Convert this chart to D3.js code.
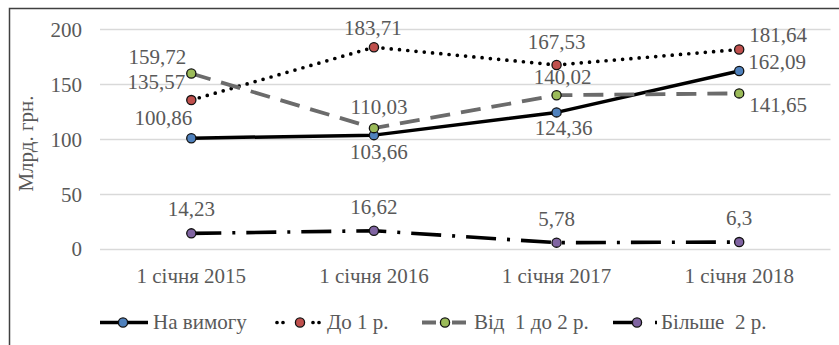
<!DOCTYPE html>
<html>
<head>
<meta charset="utf-8">
<script src="https://cdn.jsdelivr.net/npm/d3@7"></script>
</head>
<body style="margin:0">
<svg id="chart" width="839" height="345"></svg>
<script>
// ---- data ----
const categories = ["1 січня 2015", "1 січня 2016", "1 січня 2017", "1 січня 2018"];
const seriesNames = ["На вимогу", "До 1 р.", "Від  1 до 2 р.", "Більше  2 р."];
const onDemand   = [100.86, 103.66, 124.36, 162.09];
const upTo1      = [135.57, 183.71, 167.53, 181.64];
const from1to2   = [159.72, 110.03, 140.02, 141.65];
const over2      = [14.23, 16.62, 5.78, 6.3];
const yTicks     = [0, 50, 100, 150, 200];
const yTitle     = "Млрд. грн.";

// ---- styles / layout ----
const TXT = "#595959";
const seriesValues = [onDemand, upTo1, from1to2, over2];
const styles = [
  { stroke: "#000", width: 3.5, dash: null, cap: "butt", fill: "#4F81BD", legDash: null },
  { stroke: "#000", width: 3.7, dash: "0,8.3", cap: "round", fill: "#C0504D", legDash: "0,6,0,30,0,6,0,100" },
  { stroke: "#6b6b6b", width: 3.8, dash: "20,11", cap: "butt", fill: "#9BBB59", legDash: "14,16,14" },
  { stroke: "#000", width: 3.6, dash: "30,11,3,11", cap: "butt", fill: "#8064A2", legDash: "28,14,2,50" }
];
// label offsets (dx, dy) relative to each point
const labelOffsets = [
  [[-28, -20], [5, 17], [7, 16], [38, -9]],
  [[-35, -18], [-1, -19], [0, -23], [39, -14]],
  [[-34, -16], [5, -21], [6, -18], [39, 12]],
  [[0, -24], [0, -24], [0, -24], [0, -24]]
];
const legendItems = [
  { x0: 100, x1: 148, m: 123, tx: 153 },
  { x0: 277, x1: 321, m: 300, tx: 327 },
  { x0: 422, x1: 466, m: 445, tx: 474 },
  { x0: 613, x1: 660, m: 637, tx: 661 }
];

const svg = d3.select("#chart");
const fmt = v => String(v).replace(".", ",");
const styleText = sel => sel.style("font-family", "'Liberation Serif'")
  .attr("font-size", 21).attr("fill", TXT);

const x = d3.scaleBand().domain(categories).range([100, 830.5]);
const y = d3.scaleLinear().domain([0, 200]).range([249, 29.3]);
const cx = c => x(c) + x.bandwidth() / 2;

// border
svg.append("rect").attr("x", 9.5).attr("y", 8.5).attr("width", 900).attr("height", 400)
  .attr("fill", "none").attr("stroke", "#404040").attr("stroke-width", 1.5);

// gridlines
svg.append("g").selectAll("line").data(yTicks).join("line")
  .attr("x1", 100).attr("x2", 830.5)
  .attr("y1", d => Math.round(y(d)) + 0.5).attr("y2", d => Math.round(y(d)) + 0.5)
  .attr("stroke", "#d9d9d9").attr("stroke-width", 1.3);

// y axis labels
const yAxis = svg.append("g").attr("transform", "translate(82,0)")
  .call(d3.axisLeft(y).tickValues(yTicks).tickSize(0).tickPadding(0));
yAxis.attr("font-family", null).attr("font-size", null);
yAxis.select(".domain").remove();
yAxis.selectAll("text").call(styleText).attr("dy", "0.33em");

// x axis labels
const xAxis = svg.append("g").attr("transform", "translate(0,268)")
  .call(d3.axisBottom(x).tickSize(0).tickPadding(0));
xAxis.attr("font-family", null).attr("font-size", null);
xAxis.select(".domain").remove();
xAxis.selectAll("text").call(styleText).attr("dy", "0.71em");

// y title
svg.append("text").attr("transform", "translate(33,143.5) rotate(-90)")
  .attr("text-anchor", "middle").call(styleText).text(yTitle);

// series
const line = d3.line().x((d, i) => cx(categories[i])).y(d => y(d));
seriesValues.forEach((vals, s) => {
  const st = styles[s];
  const g = svg.append("g");
  g.append("path").attr("d", line(vals)).attr("fill", "none")
    .attr("stroke", st.stroke).attr("stroke-width", st.width)
    .attr("stroke-dasharray", st.dash).attr("stroke-linecap", st.cap)
    .attr("stroke-linejoin", "round");
  g.selectAll("circle").data(vals).join("circle")
    .attr("cx", (d, i) => cx(categories[i])).attr("cy", d => y(d)).attr("r", 4.6)
    .attr("fill", st.fill).attr("stroke", "#111").attr("stroke-width", 1.3);
});

// labels
seriesValues.forEach((vals, s) => {
  svg.append("g").selectAll("text").data(vals).join("text")
    .attr("x", (d, i) => cx(categories[i]) + labelOffsets[s][i][0])
    .attr("y", (d, i) => y(d) + labelOffsets[s][i][1])
    .attr("dy", "0.33em").attr("text-anchor", "middle").call(styleText)
    .text(d => fmt(d));
});

// legend
const ly = 322.5;
legendItems.forEach((it, s) => {
  const st = styles[s];
  const g = svg.append("g");
  g.append("line").attr("x1", it.x0).attr("x2", it.x1).attr("y1", ly).attr("y2", ly)
    .attr("stroke", st.stroke).attr("stroke-width", st.width)
    .attr("stroke-dasharray", st.legDash)
    .attr("stroke-linecap", st.cap);
  g.append("circle").attr("cx", it.m).attr("cy", ly).attr("r", 4.6)
    .attr("fill", st.fill).attr("stroke", "#111").attr("stroke-width", 1.3);
  g.append("text").attr("x", it.tx).attr("y", ly).attr("dy", "0.33em")
    .call(styleText).style("white-space", "pre").text(seriesNames[s]);
});
</script>
</body>
</html>
